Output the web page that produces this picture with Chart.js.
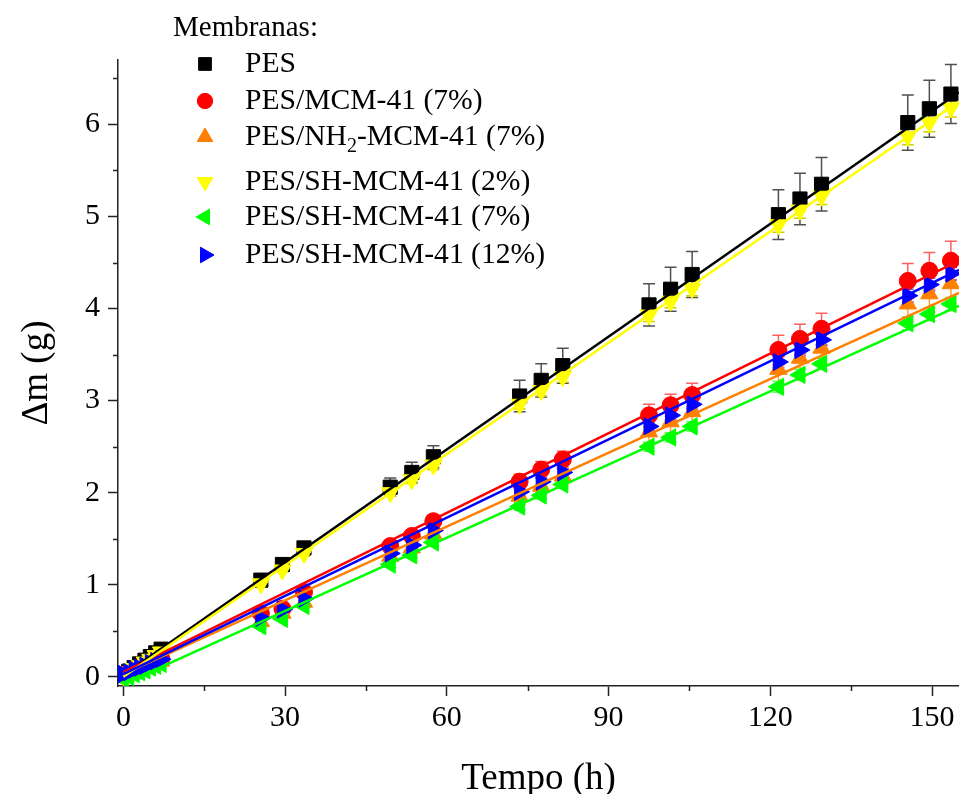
<!DOCTYPE html>
<html>
<head>
<meta charset="utf-8">
<script src="https://cdn.jsdelivr.net/npm/chart.js@4.4.1/dist/chart.umd.min.js"></script>
<style>
  html, body { margin: 0; padding: 0; background: #fff; }
  #wrap { width: 959px; height: 794px; position: relative; }
</style>
</head>
<body>
<div id="wrap"><canvas id="chart" width="959" height="794"></canvas></div>
<script>
// Massa permeada x tempo, membranas PES

const TIME = [0, 1, 2, 3, 4, 5, 6, 7, 25.5, 29.5, 33.5, 49.5, 53.5, 57.5, 73.5, 77.5, 81.5, 97.5, 101.5, 105.5, 121.5, 125.5, 129.5, 145.5, 149.5, 153.5];

const PES      = [0.02, 0.06, 0.10, 0.14, 0.18, 0.22, 0.26, 0.30, 1.05, 1.22, 1.40, 2.06, 2.22, 2.39, 3.05, 3.22, 3.38, 4.04, 4.21, 4.37, 5.02, 5.19, 5.35, 6.02, 6.17, 6.33];
const PES_ERR  = [0.01, 0.01, 0.01, 0.01, 0.01, 0.01, 0.02, 0.02, 0.05, 0.06, 0.06, 0.10, 0.11, 0.12, 0.17, 0.18, 0.19, 0.23, 0.24, 0.25, 0.27, 0.28, 0.29, 0.30, 0.31, 0.32];

const MCM      = [0.02, 0.04, 0.07, 0.10, 0.12, 0.15, 0.17, 0.20, 0.69, 0.74, 0.92, 1.42, 1.53, 1.69, 2.12, 2.25, 2.36, 2.84, 2.95, 3.06, 3.55, 3.67, 3.78, 4.30, 4.41, 4.52];
const MCM_ERR  = [0.01, 0.01, 0.01, 0.01, 0.01, 0.01, 0.01, 0.01, 0.04, 0.04, 0.05, 0.06, 0.06, 0.07, 0.08, 0.09, 0.09, 0.12, 0.12, 0.13, 0.16, 0.16, 0.17, 0.19, 0.20, 0.21];

const NH2      = [0.01, 0.03, 0.06, 0.08, 0.10, 0.13, 0.15, 0.17, 0.60, 0.69, 0.81, 1.31, 1.40, 1.55, 1.96, 2.07, 2.18, 2.66, 2.77, 2.88, 3.34, 3.46, 3.57, 4.05, 4.16, 4.27];
const NH2_ERR  = [0.01, 0.01, 0.01, 0.01, 0.01, 0.01, 0.01, 0.01, 0.04, 0.04, 0.05, 0.06, 0.06, 0.07, 0.09, 0.09, 0.10, 0.12, 0.13, 0.13, 0.16, 0.17, 0.17, 0.19, 0.20, 0.21];

const SH2      = [0.01, 0.05, 0.09, 0.12, 0.16, 0.19, 0.23, 0.27, 1.01, 1.16, 1.34, 2.00, 2.14, 2.30, 2.96, 3.11, 3.26, 3.93, 4.08, 4.22, 4.91, 5.07, 5.22, 5.87, 6.02, 6.18];
const SH2_ERR  = [0.01, 0.01, 0.01, 0.01, 0.01, 0.01, 0.01, 0.01, 0.02, 0.02, 0.03, 0.04, 0.04, 0.05, 0.05, 0.06, 0.06, 0.07, 0.07, 0.08, 0.08, 0.09, 0.09, 0.09, 0.10, 0.10];

const SH7      = [-0.02, 0.00, 0.03, 0.05, 0.07, 0.10, 0.12, 0.14, 0.55, 0.63, 0.77, 1.22, 1.32, 1.46, 1.85, 1.97, 2.09, 2.50, 2.60, 2.72, 3.15, 3.28, 3.40, 3.84, 3.94, 4.05];
const SH7_ERR  = [0.01, 0.01, 0.01, 0.01, 0.01, 0.01, 0.01, 0.01, 0.02, 0.02, 0.02, 0.03, 0.03, 0.03, 0.04, 0.04, 0.04, 0.05, 0.05, 0.05, 0.06, 0.06, 0.06, 0.07, 0.07, 0.07];

const SH12     = [0.03, 0.05, 0.08, 0.10, 0.12, 0.15, 0.17, 0.19, 0.64, 0.73, 0.85, 1.34, 1.43, 1.59, 2.01, 2.12, 2.22, 2.72, 2.84, 2.96, 3.42, 3.55, 3.66, 4.14, 4.26, 4.38];
const SH12_ERR = [0.01, 0.01, 0.01, 0.01, 0.01, 0.01, 0.01, 0.01, 0.02, 0.02, 0.02, 0.03, 0.03, 0.03, 0.04, 0.04, 0.04, 0.05, 0.05, 0.05, 0.06, 0.06, 0.06, 0.07, 0.07, 0.07];

// linear fits: value at FIT_X[0] and FIT_X[1]
const FIT_X    = [0, 155];
const PES_FIT  = [0.02, 6.35];
const MCM_FIT  = [0.05, 4.52];
const NH2_FIT  = [0.03, 4.17];
const SH2_FIT  = [0.00, 6.25];
const SH7_FIT  = [-0.08, 4.03];
const SH12_FIT = [0.03, 4.42];

const X_TICKS = [0, 30, 60, 90, 120, 150];
const X_MINOR = [15, 45, 75, 105, 135];
const Y_TICKS = [0, 1, 2, 3, 4, 5, 6];
const Y_MINOR = [0.5, 1.5, 2.5, 3.5, 4.5, 5.5, 6.5];

const LEGEND_TITLE = 'Membranas:';
const LEGEND_LABELS = [
  [{ t: 'PES' }],
  [{ t: 'PES/MCM-41 (7%)' }],
  [{ t: 'PES/NH' }, { t: '2', sub: true }, { t: '-MCM-41 (7%)' }],
  [{ t: 'PES/SH-MCM-41 (2%)' }],
  [{ t: 'PES/SH-MCM-41 (7%)' }],
  [{ t: 'PES/SH-MCM-41 (12%)' }]
];

const SERIF = '"Liberation Serif", "Times New Roman", serif';

const SERIES = [
  { y: PES,  err: PES_ERR,  fit: PES_FIT,  color: '#000000', errColor: '#505050', style: 'rect',     radius: 10, rotation: 0 },
  { y: MCM,  err: MCM_ERR,  fit: MCM_FIT,  color: '#ff0000', errColor: '#ff6060', style: 'circle',   radius: 8.5, rotation: 0 },
  { y: NH2,  err: NH2_ERR,  fit: NH2_FIT,  color: '#ff8000', errColor: '#ffa040', style: 'triangle', radius: 10, rotation: 0 },
  { y: SH2,  err: SH2_ERR,  fit: SH2_FIT,  color: '#ffff00', errColor: '#d0d000', style: 'triangle', radius: 10, rotation: 180 },
  { y: SH7,  err: SH7_ERR,  fit: SH7_FIT,  color: '#00ff00', errColor: '#60ff60', style: 'triangle', radius: 10, rotation: 270 },
  { y: SH12, err: SH12_ERR, fit: SH12_FIT, color: '#0000ff', errColor: '#6060ff', style: 'triangle', radius: 10, rotation: 90 }
];

const datasets = [];
SERIES.forEach((s, i) => {
  datasets.push({
    data: TIME.map((t, k) => ({ x: t, y: s.y[k] })),
    pointStyle: s.style,
    pointRadius: s.radius,
    pointRotation: s.rotation,
    backgroundColor: s.color,
    borderColor: s.color,
    pointBorderWidth: 1,
    showLine: false,
    order: 20 - i
  });
  datasets.push({
    data: FIT_X.map((t, k) => ({ x: t, y: s.fit[k] })),
    showLine: true,
    pointRadius: 0,
    borderColor: s.color,
    borderWidth: 2.5,
    order: 10 - i
  });
});

const errorBars = {
  id: 'errorBars',
  beforeDatasetsDraw(chart) {
    const { ctx, chartArea, scales: { x, y } } = chart;
    ctx.save();
    ctx.beginPath();
    ctx.rect(chartArea.left, chartArea.top, chartArea.right - chartArea.left, chartArea.bottom - chartArea.top);
    ctx.clip();
    ctx.lineWidth = 1.5;
    SERIES.forEach(s => {
      ctx.strokeStyle = s.errColor;
      TIME.forEach((t, k) => {
        const px = x.getPixelForValue(t);
        const top = y.getPixelForValue(s.y[k] + s.err[k]);
        const bot = y.getPixelForValue(s.y[k] - s.err[k]);
        ctx.beginPath();
        ctx.moveTo(px, top); ctx.lineTo(px, bot);
        ctx.moveTo(px - 6, top); ctx.lineTo(px + 6, top);
        ctx.moveTo(px - 6, bot); ctx.lineTo(px + 6, bot);
        ctx.stroke();
      });
    });
    ctx.restore();
  }
};

const minorTicks = {
  id: 'minorTicks',
  afterDraw(chart) {
    const { ctx, chartArea, scales: { x, y } } = chart;
    ctx.save();
    ctx.strokeStyle = '#222';
    ctx.lineWidth = 1.5;
    ctx.beginPath();
    X_MINOR.forEach(v => {
      const px = Math.round(x.getPixelForValue(v)) + 0.5;
      ctx.moveTo(px, chartArea.bottom); ctx.lineTo(px, chartArea.bottom + 5);
    });
    Y_MINOR.forEach(v => {
      const py = Math.round(y.getPixelForValue(v)) + 0.5;
      ctx.moveTo(chartArea.left, py); ctx.lineTo(chartArea.left - 5, py);
    });
    ctx.stroke();
    ctx.restore();
  }
};

const legendBox = {
  id: 'legendBox',
  afterDraw(chart) {
    const { ctx } = chart;
    const rows = [64, 101, 137, 182, 217, 255];
    ctx.save();
    ctx.fillStyle = '#000';
    ctx.textBaseline = 'middle';
    ctx.textAlign = 'left';
    ctx.font = '29px ' + SERIF;
    ctx.fillText(LEGEND_TITLE, 173, 28);
    SERIES.forEach((s, i) => {
      ctx.fillStyle = s.color;
      ctx.strokeStyle = s.color;
      Chart.helpers.drawPoint(ctx, { pointStyle: s.style, radius: s.radius * 0.9, rotation: s.rotation, borderWidth: 1 }, 205, rows[i]);
      let tx = 245;
      ctx.fillStyle = '#000';
      LEGEND_LABELS[i].forEach(seg => {
        ctx.font = (seg.sub ? '20px ' : '29.6px ') + SERIF;
        ctx.fillText(seg.t, tx, rows[i] + (seg.sub ? 10 : 0));
        tx += ctx.measureText(seg.t).width;
      });
    });
    ctx.restore();
  }
};

new Chart(document.getElementById('chart'), {
  type: 'scatter',
  data: { datasets },
  plugins: [errorBars, minorTicks, legendBox],
  options: {
    responsive: false,
    animation: false,
    events: [],
    layout: { autoPadding: false, padding: { top: 60, right: 0, left: 0, bottom: 0 } },
    plugins: { legend: { display: false }, tooltip: { enabled: false } },
    scales: {
      x: {
        type: 'linear',
        min: -1,
        max: 155,
        afterBuildTicks: s => { s.ticks = X_TICKS.map(v => ({ value: v })); },
        afterFit: s => { s.height = 108; s.paddingLeft = 0; s.paddingRight = 0; },
        ticks: { color: '#000', font: { family: SERIF, size: 30 }, padding: 4, maxRotation: 0 },
        grid: { drawOnChartArea: false, drawTicks: true, tickLength: 10, tickWidth: 1.5, tickColor: '#222' },
        border: { display: true, color: '#222', width: 1.5 },
        title: { display: true, text: 'Tempo (h)', color: '#000', font: { family: SERIF, size: 37, lineHeight: 0.8 }, padding: { top: 0, bottom: 0 } }
      },
      y: {
        type: 'linear',
        min: -0.1,
        max: 6.7,
        afterBuildTicks: s => { s.ticks = Y_TICKS.map(v => ({ value: v })); },
        afterFit: s => { s.width = 118; s.paddingTop = 0; s.paddingBottom = 0; },
        ticks: { color: '#000', font: { family: SERIF, size: 30 }, padding: 8 },
        grid: { drawOnChartArea: false, drawTicks: true, tickLength: 10, tickWidth: 1.5, tickColor: '#222' },
        border: { display: true, color: '#222', width: 1.5 },
        title: { display: true, text: 'Δm (g)', color: '#000', font: { family: SERIF, size: 37, lineHeight: 1 }, padding: { top: 19, bottom: 0 } }
      }
    }
  }
});
</script>
</body>
</html>
